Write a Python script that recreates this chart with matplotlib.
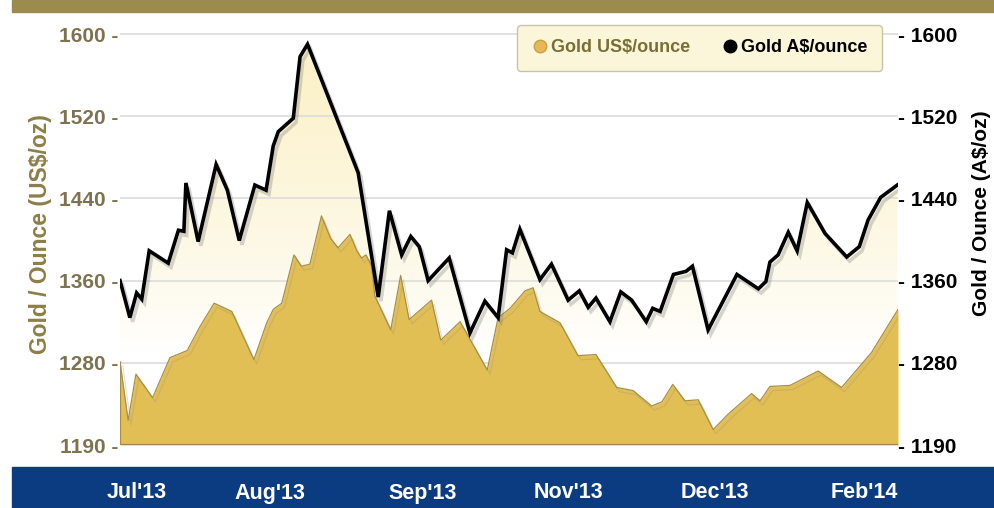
import matplotlib
matplotlib.use("Agg")
import matplotlib.pyplot as plt
import matplotlib.patheffects as pe
import numpy as np
from matplotlib import font_manager
from matplotlib.lines import Line2D
from matplotlib.patches import Rectangle
from matplotlib.colors import to_rgb

# ───────────────────── data ─────────────────────
# x = days since 1 Jul 2013
us_days = [0, 2.4, 4.7, 9.6, 14.7, 19.8, 23.5, 27.7, 32.9, 39.4, 43.2, 45.1, 47.6,
           51.2, 53.4, 55.9, 59.3, 62.0, 64.2, 67.7, 69.7, 71.1, 72.4, 74.1, 75.0,
           79.7, 82.6, 85.1, 91.7, 94.4, 100.1, 108.1, 111.3, 114.8, 119.2, 121.6,
           123.6, 129.5, 134.8, 140.1, 146.2, 151.0, 156.5, 159.5, 162.7, 166.3,
           170.2, 174.6, 179.0, 185.9, 188.4, 191.3, 197.2, 205.5, 212.4, 221.2, 229.0]
us_price = [1281, 1224, 1269, 1246, 1285, 1292, 1315, 1338, 1330, 1283, 1319, 1332, 1338,
            1385, 1374, 1376, 1423, 1401, 1392, 1405, 1389, 1382, 1385, 1374, 1345,
            1312, 1365, 1322, 1341, 1302, 1320, 1273, 1324, 1333, 1350, 1353,
            1330, 1319, 1287, 1288, 1256, 1253, 1238, 1242, 1259, 1243,
            1244, 1215, 1230, 1250, 1243, 1257, 1258, 1272, 1256, 1290, 1332]

au_days = [0, 2.9, 4.9, 6.4, 8.6, 14.2, 17.2, 18.8, 19.4, 23.0, 28.3, 31.6, 35.1,
           39.7, 43.0, 45.1, 46.6, 51.0, 53.0, 55.2, 70.1, 76.0, 79.3, 82.9, 85.6,
           88.1, 90.7, 96.9, 103.0, 107.4, 111.3, 113.8, 115.5, 117.7, 123.6, 127.0,
           131.9, 135.2, 137.8, 140.1, 144.2, 147.4, 150.6, 154.9, 156.8, 159.0,
           162.9, 166.6, 168.5, 173.1, 181.6, 187.9, 190.1, 191.3, 193.7, 196.7,
           199.3, 202.3, 207.5, 213.9, 217.6, 220.2, 223.9, 228.8]
au_price = [1360, 1324, 1348, 1342, 1389, 1377, 1409, 1408, 1455, 1398, 1473, 1448, 1399,
            1453, 1448, 1491, 1505, 1518, 1578, 1590, 1465, 1344, 1428, 1385, 1403,
            1393, 1360, 1382, 1309, 1340, 1324, 1390, 1387, 1410, 1361, 1376,
            1341, 1350, 1334, 1343, 1320, 1349, 1341, 1320, 1333, 1330,
            1366, 1369, 1374, 1312, 1366, 1352, 1359, 1378, 1385, 1407,
            1389, 1436, 1406, 1383, 1393, 1419, 1441, 1453]

month_labels = ["Jul'13", "Aug'13", "Sep'13", "Nov'13", "Dec'13", "Feb'14"]
month_days = [5, 44, 89, 132, 175, 219]

ytick_pos = [1200, 1280, 1360, 1440, 1520, 1600]
ytick_text = ["1190", "1280", "1360", "1440", "1520", "1600"]

# ───────────────────── style ─────────────────────
def pick_font(names):
    for n in names:
        try:
            font_manager.findfont(n, fallback_to_default=False)
            return n
        except Exception:
            continue
    return "DejaVu Sans"

FONT = pick_font(["Liberation Sans Narrow", "Liberation Sans", "Arial"])
plt.rcParams["font.family"] = FONT
plt.rcParams["font.weight"] = "bold"

GOLD = "#E2BF55"
GOLD_EDGE = "#A88F45"
OLIVE = "#7D7350"
OLIVE_LABEL = "#8C7E49"
NAVY = "#0B3B80"
BAND = "#9C8B4E"

W, H = 995, 508
fig = plt.figure(figsize=(W / 100, H / 100), dpi=100)
fig.patch.set_facecolor("white")

# header / footer bands
fig.patches.append(Rectangle((12 / W, 1 - 12 / H), 1, 12 / H, transform=fig.transFigure,
                             color=BAND, zorder=-1))
fig.patches.append(Rectangle((12 / W, 0), 1, 41 / H, transform=fig.transFigure,
                             color=NAVY, zorder=-1))

y_lo, y_hi = 1200, 1610
ax_bottom = 445
ax_top = ax_bottom - (y_hi - y_lo) * 82.2 / 80
ax = fig.add_axes([120 / W, 1 - ax_bottom / H, 778 / W, (ax_bottom - ax_top) / H])
ax.patch.set_visible(False)

# cream gradient under the A$ line
poly = ax.fill_between(au_days, y_lo, au_price, color="none", lw=0)
ys = np.linspace(y_lo, y_hi, 200)
t = np.clip((ys - 1290) / (1600 - 1290), 0, 1) ** 0.8
cream = np.array(to_rgb("#FBF0C4"))
white = np.ones(3)
grad = (white[None, :] * (1 - t[:, None]) + cream[None, :] * t[:, None])[:, None, :]
im = ax.imshow(grad, extent=[0, 229, y_lo, y_hi], origin="lower", aspect="auto",
               zorder=1, interpolation="bilinear")
im.set_clip_path(poly.get_paths()[0], transform=ax.transData)

for yt in ytick_pos[1:]:
    ax.axhline(yt, color="#DCDCDC", lw=1.2, zorder=1.5)

# US$ gold area
ax.fill_between(us_days, y_lo, us_price, color=GOLD, lw=0, zorder=2)
ax.plot(us_days, us_price, color=GOLD_EDGE, lw=0.9, zorder=2.5,
        path_effects=[pe.SimpleLineShadow(offset=(2, -3), shadow_color="#888888", alpha=0.25),
                      pe.Normal()])
ax.plot([0, 0], [y_lo, us_price[0]], color=GOLD_EDGE, lw=0.9, zorder=2.5)
ax.axhline(y_lo, color="#A0884A", lw=1.6, zorder=2.6)

ax.set_xlim(0, 229)
ax.set_ylim(y_lo, y_hi)
ax.set_yticks(ytick_pos)
ax.set_yticklabels([f"{s} -" for s in ytick_text])
ax.tick_params(axis="y", length=0, pad=1, labelsize=15, labelcolor=OLIVE)
ax.set_xticks(month_days)
ax.set_xticklabels(month_labels)
ax.tick_params(axis="x", length=0, pad=27, labelsize=15.5, labelcolor="white")
for s in ax.spines.values():
    s.set_visible(False)
ax.set_ylabel("Gold / Ounce (US$/oz)", fontsize=16.5, color=OLIVE_LABEL, fontweight="bold")
ax.yaxis.set_label_coords(-0.088, 0.5)

# A$ line on the right axis
ax2 = ax.twinx()
ax2.set_ylim(y_lo, y_hi)
ax2.plot(au_days, au_price, color="black", lw=2.6, zorder=3, solid_joinstyle="miter",
         path_effects=[pe.SimpleLineShadow(offset=(2, -3), shadow_color="#777777", alpha=0.3),
                       pe.Normal()])
ax2.set_yticks(ytick_pos)
ax2.set_yticklabels([f"- {s}" for s in ytick_text])
ax2.tick_params(axis="y", length=0, pad=0, labelsize=15, labelcolor="black")
for s in ax2.spines.values():
    s.set_visible(False)
ax2.set_ylabel("Gold / Ounce (A$/oz)", fontsize=15, color="black", fontweight="bold")
ax2.yaxis.set_label_coords(1.095, 0.55)

# legend
handles = [
    Line2D([], [], ls="none", marker="o", ms=9, mfc="#E6B85A", mec="#C9A040"),
    Line2D([], [], ls="none", marker="o", ms=9, mfc="black", mec="black"),
]
leg = fig.legend(handles, ["Gold US$/ounce", "Gold A$/ounce"], ncol=2,
                 loc="upper left", bbox_to_anchor=(517 / W, 1 - 25 / H), borderaxespad=0,
                 frameon=True, fancybox=True, facecolor="#FBF6DA", edgecolor="#C9C3A6",
                 framealpha=1, fontsize=13, handletextpad=0.1, columnspacing=1.7,
                 borderpad=0.8, handlelength=1.0)
leg.get_texts()[0].set_color("#7A6E34")
leg.get_frame().set_linewidth(1.0)

fig.savefig("out.png", dpi=100)
